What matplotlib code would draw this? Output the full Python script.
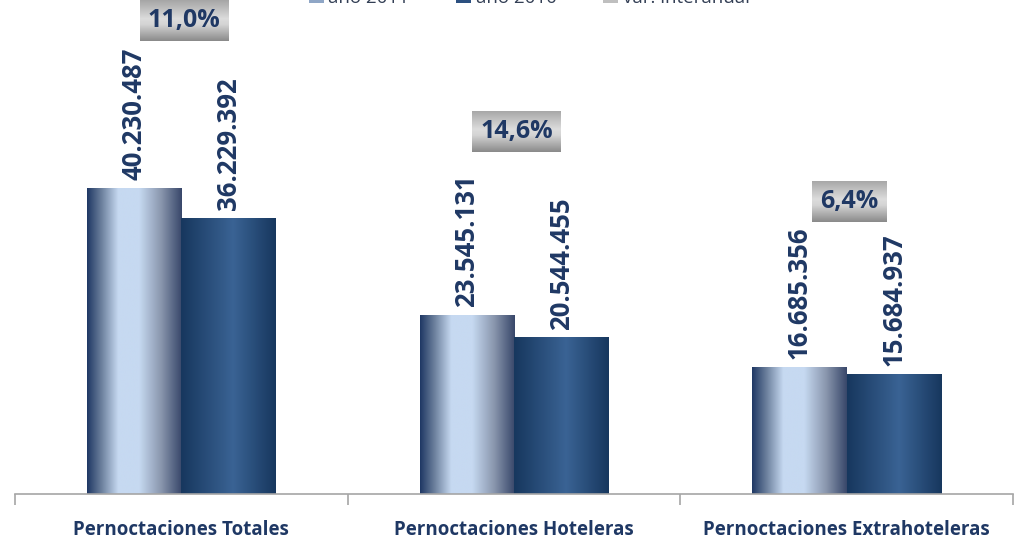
import matplotlib
matplotlib.use("Agg")
import matplotlib.pyplot as plt
import numpy as np
from matplotlib.colors import LinearSegmentedColormap
from matplotlib.patches import Patch

categories = ["Pernoctaciones Totales", "Pernoctaciones Hoteleras", "Pernoctaciones Extrahoteleras"]
anio_2011 = [40230487, 23545131, 16685356]
anio_2010 = [36229392, 20544455, 15684937]
var_interanual = [11.0, 14.6, 6.4]
series_names = ["año 2011", "año 2010", "var. interanual"]

NAVY = "#1F3864"
plt.rcParams["font.family"] = ["Open Sans", "DejaVu Sans"]

# cylinder-like shading across each bar
grad_2011 = LinearSegmentedColormap.from_list("g2011", [
    (0.0, "#1f3864"), (0.15, "#6b7f9c"), (0.33, "#c6d9f1"),
    (0.55, "#c6d9f1"), (0.78, "#8a97ae"), (1.0, "#38476a")])
grad_2010 = LinearSegmentedColormap.from_list("g2010", [
    (0.0, "#17375e"), (0.55, "#3a6394"), (1.0, "#17375e")])
grad_box = LinearSegmentedColormap.from_list("gbox", [
    (0.0, "#a5a5a5"), (0.45, "#dcdcdc"), (0.6, "#d4d4d4"), (1.0, "#8a8a8a")])

# how far (points) each variation box sits above its 2011 bar
box_lift = [121, 132, 119]


def shade_bars(ax, bars, cmap):
    row = cmap(np.linspace(0, 1, 256))[np.newaxis, :, :]
    for b in bars:
        x0, w, h = b.get_x(), b.get_width(), b.get_height()
        ax.imshow(row, extent=[x0, x0 + w, 0, h], aspect="auto",
                  interpolation="bilinear", zorder=2)


def fmt_miles(v):
    return f"{v:,}".replace(",", ".")


fig = plt.figure(figsize=(10.14, 5.43), dpi=100)
ax = fig.add_axes([15 / 1014, 1 - 494 / 543, 998 / 1014, 484 / 543])

x = np.arange(len(categories))
w = 0.284

b11 = ax.bar(x - w / 2, anio_2011, w, color="none", edgecolor="none")
b10 = ax.bar(x + w / 2, anio_2010, w, color="none", edgecolor="none")
shade_bars(ax, b11, grad_2011)
shade_bars(ax, b10, grad_2010)

for bars, vals in ((b11, anio_2011), (b10, anio_2010)):
    for b, v in zip(bars, vals):
        ax.annotate(fmt_miles(v), (b.get_x() + b.get_width() / 2, v),
                    xytext=(0, 6), textcoords="offset points",
                    rotation=90, ha="center", va="bottom",
                    fontsize=18.5, fontweight="bold", color=NAVY)

ax.set_xlim(-0.5, 2.5)
ax.set_ylim(0, 63.7e6)

pct_texts = []
for xi, top, p, lift in zip(x, anio_2011, var_interanual, box_lift):
    t = ax.annotate(f"{p:.1f}%".replace(".", ","), (xi, top),
                    xytext=(2, lift), textcoords="offset points",
                    ha="center", va="center", fontsize=18, fontweight="bold",
                    color=NAVY, zorder=6)
    pct_texts.append(t)

fig.canvas.draw()
renderer = fig.canvas.get_renderer()
col = grad_box(np.linspace(0, 1, 128))[:, np.newaxis, :]
to_axes = ax.transAxes.inverted()
for t in pct_texts:
    bb = t.get_window_extent(renderer)
    cy = (bb.y0 + bb.y1) / 2
    (ax0, ay0), (ax1, ay1) = to_axes.transform([(bb.x0 - 8, cy - 20.5), (bb.x1 + 8, cy + 20.5)])
    inset = ax.inset_axes([ax0, ay0, ax1 - ax0, ay1 - ay0], zorder=5)
    inset.imshow(col, aspect="auto", interpolation="bilinear")
    inset.axis("off")

for side in ("left", "right", "top"):
    ax.spines[side].set_visible(False)
ax.spines["bottom"].set_color("#a6a6a6")
ax.spines["bottom"].set_linewidth(1.2)
ax.set_yticks([])
ax.set_xticks(x, categories, fontsize=13.5, fontweight="bold", color=NAVY)
ax.tick_params(axis="x", which="major", length=0, pad=19)
ax.set_xticks([-0.5, 0.5, 1.5, 2.5], minor=True)
ax.tick_params(axis="x", which="minor", length=8, width=1.2, color="#a6a6a6")

handles = [Patch(facecolor="#8fa6c6"), Patch(facecolor="#2c5080"), Patch(facecolor="#bfbfbf")]
fig.legend(handles, series_names, loc="center", bbox_to_anchor=(0.522, 1.004),
           ncol=3, frameon=False, fontsize=13.5, handlelength=0.8, handleheight=0.8,
           handletextpad=0.25, columnspacing=2.5, labelcolor="#333f55")

fig.savefig("out.png", dpi=100)
